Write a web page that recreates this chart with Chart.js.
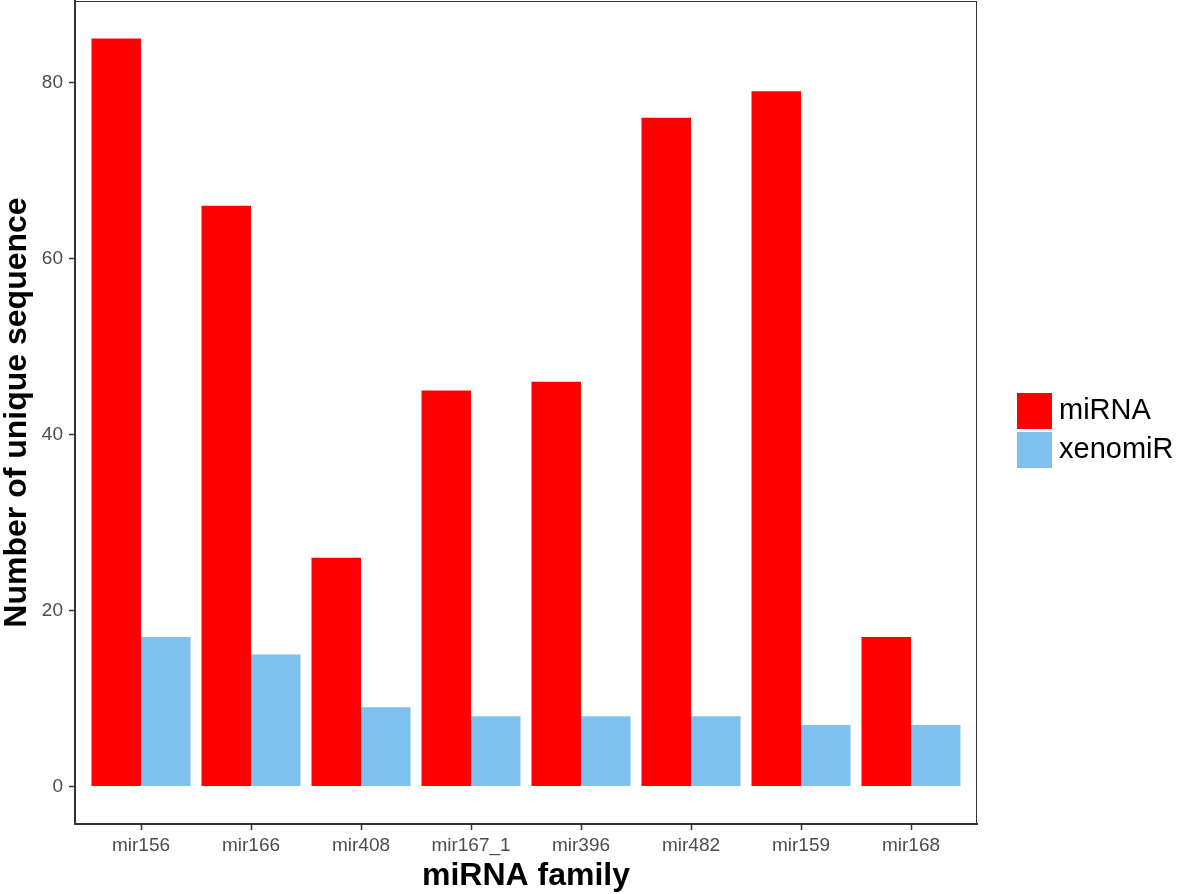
<!DOCTYPE html>
<html>
<head>
<meta charset="utf-8">
<script src="https://cdn.jsdelivr.net/npm/chart.js@4.4.1/dist/chart.umd.min.js"></script>
<style>
  html, body { margin: 0; padding: 0; background: #fff; }
  canvas { display: block; }
</style>
</head>
<body>
<canvas id="chart" width="1181" height="894"></canvas>
<script>
// data
const families = ["mir156", "mir166", "mir408", "mir167_1", "mir396", "mir482", "mir159", "mir168"];
const mirnaCounts = [85, 66, 26, 45, 46, 76, 79, 17];
const xenomirCounts = [17, 15, 9, 8, 8, 8, 7, 7];
const yTicks = [0, 20, 40, 60, 80];

const FONT = "'Liberation Sans', Arial, sans-serif";
const toPoints = (vals) => vals.map((v, i) => ({ x: i, y: v }));

// plot frame + legend (ggplot style)
const framePlugin = {
	id: "frame",
	afterDraw(chart) {
		const { ctx, chartArea: a } = chart;
		ctx.save();
		ctx.strokeStyle = "#333";
		ctx.lineWidth = 1;
		ctx.strokeRect(a.left + 0.5, a.top + 0.5, a.right - a.left - 1, a.bottom - a.top - 1);

		// legend
		ctx.font = "29px " + FONT;
		ctx.textBaseline = "middle";
		chart.data.datasets.forEach((ds, i) => {
			const y = 393 + i * 39;
			ctx.fillStyle = ds.backgroundColor;
			ctx.fillRect(1017, y, 35, 36);
			ctx.fillStyle = "#000";
			ctx.fillText(ds.label, 1059, y + 18);
		});
		ctx.restore();
	},
};

const noPad = (s) => {
	s.paddingTop = 0;
	s.paddingBottom = 0;
	s.paddingLeft = 0;
	s.paddingRight = 0;
};

const ctx = document.getElementById("chart");
const chart = new Chart(ctx, {
	type: "bar",
	data: {
		datasets: [
			{ label: "miRNA", data: toPoints(mirnaCounts), backgroundColor: "#FF0000" },
			{ label: "xenomiR", data: toPoints(xenomirCounts), backgroundColor: "#7EC0EE" },
		],
	},
	options: {
		responsive: false,
		animation: false,
		layout: { padding: { top: 1, right: 204, left: 0, bottom: 0 } },
		datasets: { bar: { categoryPercentage: 0.9, barPercentage: 1.0, borderWidth: 0 } },
		plugins: { legend: { display: false }, tooltip: { enabled: false } },
		scales: {
			x: {
				type: "linear",
				offset: false,
				min: -0.6,
				max: 7.6,
				afterBuildTicks: (s) => { s.ticks = families.map((_, i) => ({ value: i })); },
				afterFit: (s) => { s.height = 70; noPad(s); },
				grid: { offset: false, drawOnChartArea: false, drawTicks: true, tickLength: 6, tickColor: "#333", tickWidth: 1.5 },
				border: { display: true, color: "#333", width: 2 },
				ticks: {
					autoSkip: false,
					maxRotation: 0,
					padding: 4,
					color: "#4d4d4d",
					font: { family: FONT, size: 19 },
					callback: (v) => families[v],
				},
				title: {
					display: true,
					text: "miRNA family",
					color: "#000",
					font: { family: FONT, size: 32, weight: "bold", lineHeight: 1.1 },
					padding: 0,
				},
			},
			y: {
				min: -4.25,
				max: 89.25,
				afterBuildTicks: (s) => { s.ticks = yTicks.map((v) => ({ value: v })); },
				afterFit: (s) => { s.width = 75; noPad(s); },
				grid: { drawOnChartArea: false, drawTicks: true, tickLength: 6, tickColor: "#333", tickWidth: 1.5 },
				border: { display: true, color: "#333", width: 2 },
				ticks: {
					padding: 6,
					color: "#4d4d4d",
					font: { family: FONT, size: 19 },
				},
				title: {
					display: true,
					text: "Number of unique sequence",
					color: "#000",
					font: { family: FONT, size: 32, weight: "bold", lineHeight: 1.1 },
					padding: 0,
				},
			},
		},
	},
	plugins: [framePlugin],
});
</script>
</body>
</html>
